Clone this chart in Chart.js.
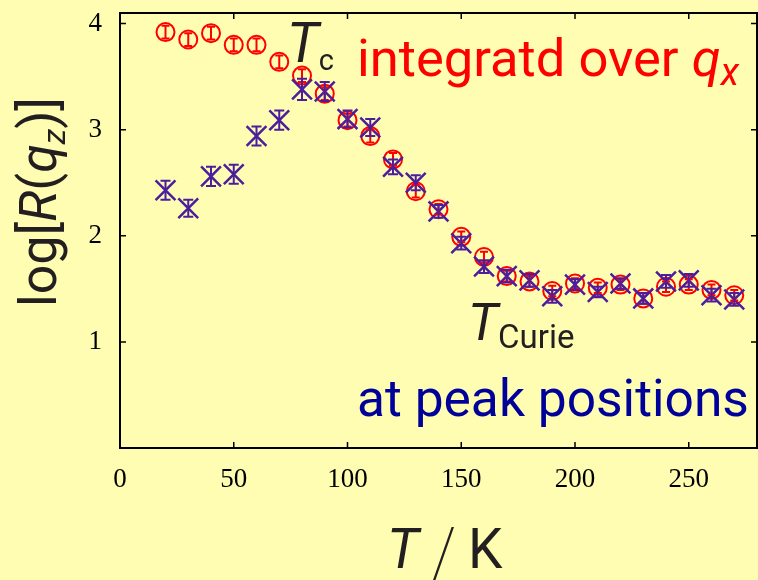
<!DOCTYPE html>
<html>
<head>
<meta charset="utf-8">
<script src="https://cdn.jsdelivr.net/npm/chart.js@4"></script>
<style>
  html, body { margin: 0; padding: 0; background: #fffdb1; overflow: hidden; }
  #wrap { width: 758px; height: 580px; position: relative; }
  #chart { display: block; }
</style>
</head>
<body>
<div id="wrap"><canvas id="chart"></canvas></div>
<script>
const temps = [20, 30, 40, 50, 60, 70, 80, 90, 100, 110, 120, 130, 140, 150, 160, 170, 180, 190, 200, 210, 220, 230, 240, 250, 260, 270];
const integrated = [3.92, 3.85, 3.91, 3.80, 3.80, 3.64, 3.51, 3.34, 3.09, 2.94, 2.72, 2.42, 2.25, 1.99, 1.80, 1.62, 1.57, 1.48, 1.55, 1.51, 1.54, 1.41, 1.52, 1.54, 1.49, 1.44];
const integratedErr = [0.06, 0.06, 0.06, 0.06, 0.06, 0.06, 0.06, 0.06, 0.06, 0.06, 0.06, 0.06, 0.05, 0.05, 0.05, 0.05, 0.05, 0.05, 0.05, 0.05, 0.05, 0.05, 0.05, 0.05, 0.05, 0.05];
const peak = [2.43, 2.26, 2.56, 2.58, 2.94, 3.09, 3.38, 3.36, 3.10, 3.02, 2.65, 2.50, 2.23, 1.93, 1.71, 1.62, 1.58, 1.43, 1.54, 1.47, 1.55, 1.41, 1.57, 1.58, 1.44, 1.40];
const peakErr = [0.09, 0.08, 0.09, 0.09, 0.09, 0.09, 0.10, 0.09, 0.08, 0.08, 0.07, 0.07, 0.06, 0.06, 0.06, 0.06, 0.06, 0.06, 0.05, 0.05, 0.05, 0.05, 0.06, 0.06, 0.06, 0.06];
const xTicks = [0, 50, 100, 150, 200, 250];
const yTicks = [1, 2, 3, 4];

const RED = '#ff0000';
const PURPLE = '#4b1e9e';
const DARK = '#231f20';
const BLUE = '#00009a';
const SANS = 'Roboto, "DejaVu Sans", sans-serif';

function points(ys) {
  return temps.map((t, i) => ({ x: t, y: ys[i] }));
}

// vertical error bars with caps, drawn through the scales
const errorBars = {
  id: 'errorBars',
  afterDatasetsDraw(chart) {
    const ctx = chart.ctx;
    const xs = chart.scales.x, ys = chart.scales.y;
    chart.data.datasets.slice().reverse().forEach(ds => {
      ctx.save();
      ctx.strokeStyle = ds.borderColor;
      ctx.lineWidth = 2;
      ds.data.forEach((p, i) => {
        const px = xs.getPixelForValue(p.x);
        const top = ys.getPixelForValue(p.y + ds.errors[i]);
        const bot = ys.getPixelForValue(p.y - ds.errors[i]);
        const cap = ds.capWidth;
        ctx.beginPath();
        ctx.moveTo(px, top); ctx.lineTo(px, bot);
        ctx.moveTo(px - cap, top); ctx.lineTo(px + cap, top);
        ctx.moveTo(px - cap, bot); ctx.lineTo(px + cap, bot);
        ctx.stroke();
      });
      ctx.restore();
    });
  }
};

// frame with inward ticks on all four sides
const frame = {
  id: 'frame',
  afterDraw(chart) {
    const { ctx, chartArea: a } = chart;
    const xs = chart.scales.x, ys = chart.scales.y;
    ctx.save();
    ctx.strokeStyle = '#000';
    ctx.lineWidth = 2;
    ctx.strokeRect(a.left, a.top, a.right - a.left, a.bottom - a.top);
    ctx.lineWidth = 1.5;
    ctx.beginPath();
    xTicks.forEach(v => {
      const px = xs.getPixelForValue(v);
      ctx.moveTo(px, a.bottom); ctx.lineTo(px, a.bottom - 6);
      ctx.moveTo(px, a.top); ctx.lineTo(px, a.top + 6);
    });
    yTicks.forEach(v => {
      const py = ys.getPixelForValue(v);
      ctx.moveTo(a.left, py); ctx.lineTo(a.left + 6, py);
      ctx.moveTo(a.right, py); ctx.lineTo(a.right - 6, py);
    });
    ctx.stroke();
    ctx.restore();
  }
};

// runs of text with mixed style: [text, size, italic, color, dy]
function drawRuns(ctx, runs, x, y) {
  runs.forEach(r => {
    ctx.font = (r[2] ? 'italic ' : '') + r[1] + 'px ' + SANS;
    ctx.fillStyle = r[3];
    ctx.fillText(r[0], x, y + (r[4] || 0));
    x += ctx.measureText(r[0]).width;
  });
}

const annotations = {
  id: 'annotations',
  afterDraw(chart) {
    const ctx = chart.ctx;
    ctx.save();
    ctx.textBaseline = 'alphabetic';
    ctx.textAlign = 'left';
    drawRuns(ctx, [['integratd over ', 52.5, false, RED], ['q', 52.5, true, RED], ['x', 38, true, RED, 9]], 357, 76);
    drawRuns(ctx, [['T', 55, true, DARK], ['c', 29, false, DARK, 8]], 287, 62);
    drawRuns(ctx, [['T', 52, true, DARK], ['Curie', 33, false, DARK, 8]], 468, 340);
    drawRuns(ctx, [['at peak positions', 51.5, false, BLUE]], 357, 416);
    // x axis title
    drawRuns(ctx, [['T', 55, true, DARK]], 387, 568);
    ctx.save();
    ctx.translate(443, 555);
    ctx.transform(1, 0, -0.35, 1, 0, 0);
    ctx.fillStyle = DARK;
    ctx.fillRect(-1.2, -28, 2.4, 56);
    ctx.restore();
    drawRuns(ctx, [['K', 55, false, DARK]], 468, 568);
    // y axis title
    ctx.translate(56, 307);
    ctx.rotate(-Math.PI / 2);
    drawRuns(ctx, [['log[', 52, false, DARK], ['R', 52, true, DARK], ['(', 52, false, DARK], ['q', 52, true, DARK], ['z', 32, true, DARK, 9], [')]', 52, false, DARK]], 0, 0);
    ctx.restore();
  }
};

const tickFont = { family: '"Liberation Serif", "Times New Roman", serif', size: 27 };

new Chart(document.getElementById('chart'), {
  type: 'scatter',
  data: {
    datasets: [
      {
        label: 'at peak positions',
        data: points(peak),
        errors: peakErr,
        capWidth: 5,
        pointStyle: 'crossRot',
        pointRadius: 14,
        pointBorderWidth: 2.5,
        borderColor: PURPLE,
        backgroundColor: PURPLE,
        order: 1
      },
      {
        label: 'integratd over qx',
        data: points(integrated),
        errors: integratedErr,
        capWidth: 4,
        pointStyle: 'circle',
        pointRadius: 9,
        pointBorderWidth: 2,
        borderColor: RED,
        backgroundColor: 'rgba(0,0,0,0)',
        order: 2
      }
    ]
  },
  options: {
    responsive: true,
    maintainAspectRatio: false,
    animation: false,
    events: [],
    layout: { autoPadding: false, padding: { top: 13, right: 1, left: 0, bottom: 0 } },
    plugins: { legend: { display: false }, tooltip: { enabled: false } },
    scales: {
      x: {
        type: 'linear',
        min: 0,
        max: 280,
        afterBuildTicks: s => { s.ticks = xTicks.map(v => ({ value: v })); },
        afterFit: s => { s.height = 132; s.paddingLeft = 0; s.paddingRight = 0; },
        grid: { display: false, drawTicks: false },
        border: { display: false },
        ticks: { font: tickFont, color: '#000', padding: 16, maxRotation: 0 }
      },
      y: {
        type: 'linear',
        min: 0,
        max: 4.1,
        afterBuildTicks: s => { s.ticks = yTicks.map(v => ({ value: v })); },
        afterFit: s => { s.width = 120; s.paddingTop = 0; s.paddingBottom = 0; },
        grid: { display: false, drawTicks: false },
        border: { display: false },
        ticks: { font: tickFont, color: '#000', padding: 18 }
      }
    }
  },
  plugins: [errorBars, frame, annotations]
});
</script>
</body>
</html>
